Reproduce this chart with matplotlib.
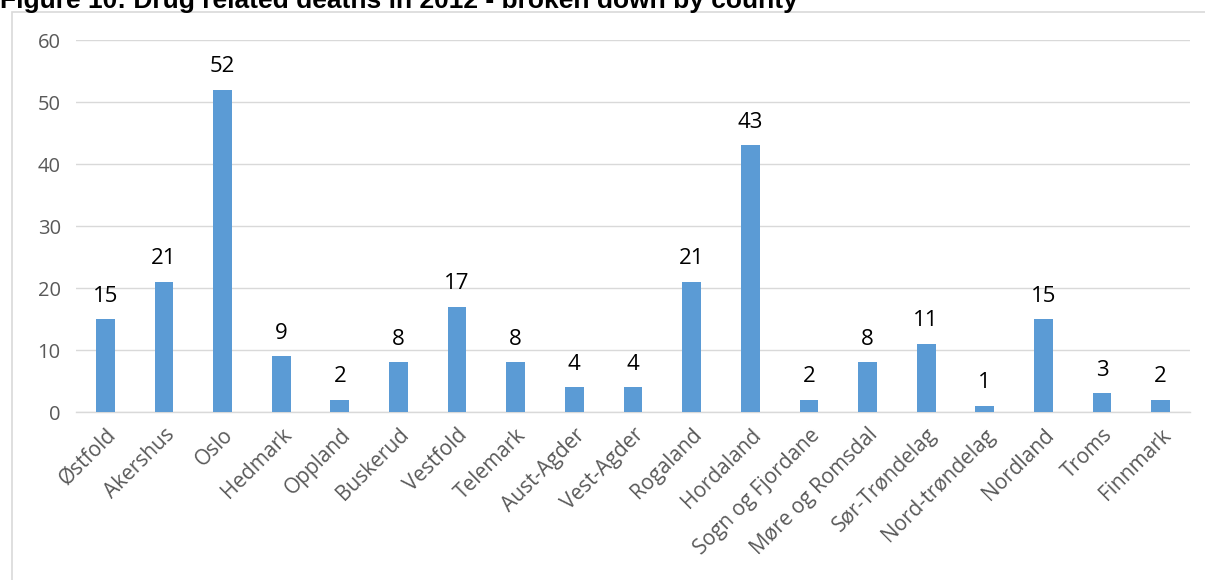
import matplotlib
matplotlib.use("Agg")
import matplotlib.pyplot as plt
from matplotlib.patches import Rectangle

counties = ["Østfold", "Akershus", "Oslo", "Hedmark", "Oppland", "Buskerud", "Vestfold",
            "Telemark", "Aust-Agder", "Vest-Agder", "Rogaland", "Hordaland", "Sogn og Fjordane",
            "Møre og Romsdal", "Sør-Trøndelag", "Nord-trøndelag", "Nordland", "Troms", "Finnmark"]
deaths = [15, 21, 52, 9, 2, 8, 17, 8, 4, 4, 21, 43, 2, 8, 11, 1, 15, 3, 2]
yticks = [0, 10, 20, 30, 40, 50, 60]

W, H = 1205, 580
plt.rcParams['font.family'] = ['Open Sans', 'DejaVu Sans']
fig = plt.figure(figsize=(W / 100, H / 100), dpi=100)

# chart frame
fig.patches.append(Rectangle((12 / W, -0.01), 1.2, (H - 12) / H + 0.01, transform=fig.transFigure,
                             fill=False, edgecolor='#d9d9d9', linewidth=1.2))

fig.text(0.0, 1 - 8 / H, "Figure 10: Drug related deaths in 2012 - broken down by county",
         fontsize=19, fontweight='bold', family=['Liberation Sans', 'DejaVu Sans'],
         va='baseline', ha='left', color='black')

ax = fig.add_axes([76 / W, 1 - 412 / H, (1190 - 76) / W, (412 - 40) / H])
x = range(len(counties))
ax.bar(x, deaths, width=0.32, color='#5b9bd5', zorder=3)
for xi, v in zip(x, deaths):
    ax.annotate(str(v), (xi, v), xytext=(0, 9), textcoords='offset points',
                ha='center', va='bottom', fontsize=16, color='black')

ax.set_xlim(-0.5, len(counties) - 0.5)
ax.set_ylim(0, 60)
ax.set_yticks(yticks)
ax.set_yticklabels([str(t) for t in yticks], fontsize=14.5, color='#595959')
ax.set_xticks(list(x))
ax.set_xticklabels(counties, rotation=45, ha='right', rotation_mode='anchor', fontsize=15, color='#595959')
ax.tick_params(axis='both', length=0)
ax.tick_params(axis='y', pad=11)
ax.tick_params(axis='x', pad=9)
ax.grid(axis='y', color='#d9d9d9', linewidth=1, zorder=0)
for s in ['top', 'right', 'left']:
    ax.spines[s].set_visible(False)
ax.spines['bottom'].set_color('#d9d9d9')
ax.spines['bottom'].set_linewidth(1)

fig.savefig("out.png", dpi=100)
